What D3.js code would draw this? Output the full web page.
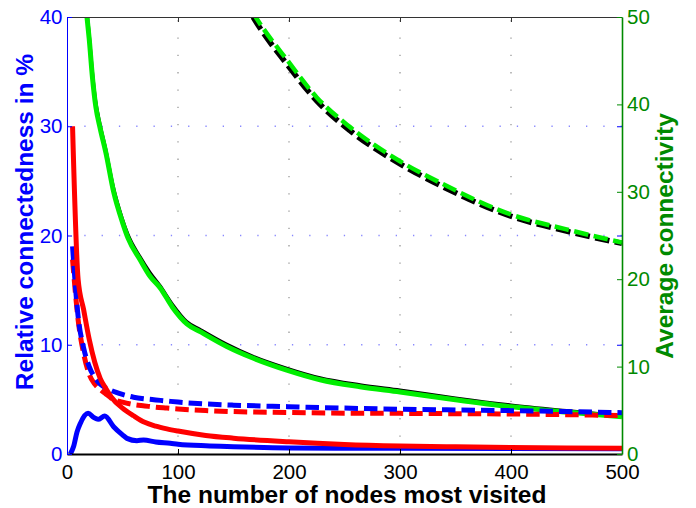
<!DOCTYPE html>
<html>
<head>
<meta charset="utf-8">
<script src="https://d3js.org/d3.v7.min.js"></script>
<style>
  body { margin: 0; background: #fff; }
  svg text { font-family: "Liberation Sans", Arial, sans-serif; }
</style>
</head>
<body>
<svg width="696" height="508"></svg>
<script>

// x positions shared by the red and dashed blue series (number of nodes)
var nodeSteps = [5, 10, 15, 20, 25, 30, 35, 40, 50, 60, 70, 80, 90, 100, 125, 150, 200, 250, 300, 350, 400, 450, 500];

// left axis series (relative connectedness, %)
var redSolid   = [30, 16, 13.2, 10.5, 8.4, 6.9, 6.0, 5.2, 4.2, 3.5, 2.9, 2.55, 2.3, 2.1, 1.7, 1.45, 1.12, 0.88, 0.74, 0.66, 0.6, 0.56, 0.53];
var blueDashed = [19.0, 12.6, 9.7, 8.0, 7.0, 6.4, 6.05, 5.8, 5.45, 5.2, 5.05, 4.95, 4.85, 4.75, 4.58, 4.47, 4.33, 4.2, 4.1, 4.03, 3.97, 3.88, 3.78];
var redDashed  = [17.8, 12.3, 9.2, 7.3, 6.4, 5.9, 5.5, 5.1, 4.75, 4.52, 4.4, 4.28, 4.2, 4.12, 3.98, 3.88, 3.8, 3.74, 3.72, 3.69, 3.66, 3.6, 3.52];

var blueSolidNodes = [3, 6, 9, 12, 19, 24, 28, 34, 42, 50, 54, 63, 69, 80, 93, 100, 125, 150, 200, 250, 300, 400, 500];
var blueSolid      = [0, 0.7, 2.0, 2.8, 3.72, 3.35, 3.17, 3.48, 2.5, 1.75, 1.43, 1.22, 1.28, 1.1, 0.98, 0.9, 0.75, 0.67, 0.56, 0.53, 0.52, 0.5, 0.48];

// right axis series (average connectivity)
var solidNodes = [18, 20, 23, 26, 30, 35, 42, 50, 55, 66, 75, 84, 95, 108, 120, 144, 168, 198, 228, 264, 300, 350, 400, 450, 500];
var greenSolid = [50, 47.5, 43, 39.7, 37.2, 34.5, 30, 26.5, 24.7, 22.2, 20.3, 19, 16.8, 14.9, 14, 12.3, 10.95, 9.6, 8.5, 7.7, 7.1, 6.2, 5.4, 4.8, 4.25];
var blackSolid = [51, 48.5, 44, 40.5, 37.8, 35, 30.6, 27, 25.2, 22.6, 20.8, 19.3, 17.2, 15.2, 14.3, 12.6, 11.2, 9.85, 8.75, 7.95, 7.35, 6.45, 5.65, 5.0, 4.4];

var dashedNodes = [150, 170, 200, 225, 255, 300, 340, 400, 450, 500];
var greenDashed = [54.5, 50, 44.8, 40.8, 37.4, 33.5, 30.8, 27.4, 25.7, 24.2];
var blackDashed = [54, 49.5, 44.3, 40.4, 37.0, 33.2, 30.5, 27.2, 25.5, 24.1];

var xTicks = [0, 100, 200, 300, 400, 500];
var leftTicks = [0, 10, 20, 30, 40];
var rightTicks = [0, 10, 20, 30, 40, 50];

var blue = "#0000ff", green = "#008a00", red = "#ff0000", lime = "#00ee00";

var svg = d3.select("svg");

var x  = d3.scaleLinear().domain([0, 500]).range([67, 622]);
var yL = d3.scaleLinear().domain([0, 40]).range([454, 17]);
var yR = d3.scaleLinear().domain([0, 50]).range([454, 17]);

svg.append("clipPath").attr("id", "plot")
  .append("rect").attr("x", 67).attr("y", 17).attr("width", 555).attr("height", 437);

// dotted grid
svg.selectAll(".vgrid").data([100, 200, 300, 400]).enter().append("line")
    .attr("x1", function(d) { return x(d); }).attr("x2", function(d) { return x(d); })
    .attr("y1", 454).attr("y2", 17)
    .style("stroke", "#999").style("stroke-width", 1.3).style("stroke-dasharray", "1.3,16");
svg.selectAll(".hgrid").data([10, 20, 30]).enter().append("line")
    .attr("x1", 67).attr("x2", 622)
    .attr("y1", function(d) { return yL(d); }).attr("y2", function(d) { return yL(d); })
    .style("stroke", "#8888ff").style("stroke-width", 1.3).style("stroke-dasharray", "1.3,16");

function pairs(xs, ys) { return xs.map(function(n, i) { return [n, ys[i]]; }); }

function drawLine(xs, ys, yScale, color, width, dash) {
  var line = d3.line()
      .x(function(d) { return x(d[0]); })
      .y(function(d) { return yScale(d[1]); })
      .curve(d3.curveMonotoneX);
  svg.append("path")
      .datum(pairs(xs, ys))
      .attr("clip-path", "url(#plot)")
      .attr("d", line)
      .style("fill", "none")
      .style("stroke", color)
      .style("stroke-width", width)
      .style("stroke-linejoin", "round")
      .style("stroke-dasharray", dash || null);
}

// right axis curves
drawLine(solidNodes, blackSolid, yR, "#000", 2.5);
drawLine(solidNodes, greenSolid, yR, lime, 5);
drawLine(dashedNodes, blackDashed, yR, "#000", 5.5, "14.5,5.5");
drawLine(dashedNodes, greenDashed, yR, lime, 4.5, "14.5,5.5");

// left axis curves
drawLine(nodeSteps, redDashed, yL, red, 5, "13.5,6");
drawLine(nodeSteps, blueDashed, yL, blue, 5, "13.5,6");
drawLine(blueSolidNodes, blueSolid, yL, blue, 5);
drawLine(nodeSteps, redSolid, yL, red, 5);

// axes
var bottomAxis = svg.append("g").attr("transform", "translate(0,454)")
    .call(d3.axisBottom(x).tickValues(xTicks).tickSizeInner(-5).tickSizeOuter(0).tickPadding(10));
bottomAxis.select(".domain").style("stroke", "#000").style("stroke-width", 2);
bottomAxis.selectAll("line").style("stroke", "#000");
bottomAxis.selectAll("text").style("font-size", "20.5px").style("fill", "#000");

var topAxis = svg.append("g").attr("transform", "translate(0,17)")
    .call(d3.axisTop(x).tickValues([100, 200, 300, 400]).tickSizeInner(-5).tickSizeOuter(0).tickFormat(""));
topAxis.select(".domain").style("stroke", "#333").style("stroke-width", 1.2);
topAxis.selectAll("line").style("stroke", "#333");

var leftAxis = svg.append("g").attr("transform", "translate(67,0)")
    .call(d3.axisLeft(yL).tickValues(leftTicks).tickSizeInner(-5).tickSizeOuter(0).tickPadding(4.5));
leftAxis.select(".domain").style("stroke", blue).style("stroke-width", 1);
leftAxis.selectAll("line").style("stroke", blue);
leftAxis.selectAll("text").style("font-size", "20.5px").style("fill", blue);

// blue ticks repeated on the right edge
var leftAxisEcho = svg.append("g").attr("transform", "translate(622,0)")
    .call(d3.axisRight(yL).tickValues([10, 20, 30]).tickSizeInner(-5).tickSizeOuter(0).tickFormat(""));
leftAxisEcho.select(".domain").remove();
leftAxisEcho.selectAll("line").style("stroke", blue);

var rightAxis = svg.append("g").attr("transform", "translate(622,0)")
    .call(d3.axisRight(yR).tickValues(rightTicks).tickSizeInner(-5).tickSizeOuter(0).tickPadding(5));
rightAxis.select(".domain").style("stroke", green).style("stroke-width", 1.6);
rightAxis.selectAll("line").style("stroke", green);
rightAxis.selectAll("text").style("font-size", "20.5px").style("fill", green);

// axis titles
svg.append("text")
    .attr("x", 347).attr("y", 503)
    .attr("text-anchor", "middle")
    .style("font-size", "24.5px").style("font-weight", "bold").style("fill", "#000")
    .text("The number of nodes most visited");

svg.append("text")
    .attr("transform", "translate(33,222) rotate(-90)")
    .attr("text-anchor", "middle")
    .style("font-size", "24.5px").style("font-weight", "bold").style("fill", blue)
    .text("Relative connectedness in %");

svg.append("text")
    .attr("transform", "translate(673,236) rotate(-90)")
    .attr("text-anchor", "middle")
    .style("font-size", "24.5px").style("font-weight", "bold").style("fill", green)
    .text("Average connectivity");

</script>
</body>
</html>
